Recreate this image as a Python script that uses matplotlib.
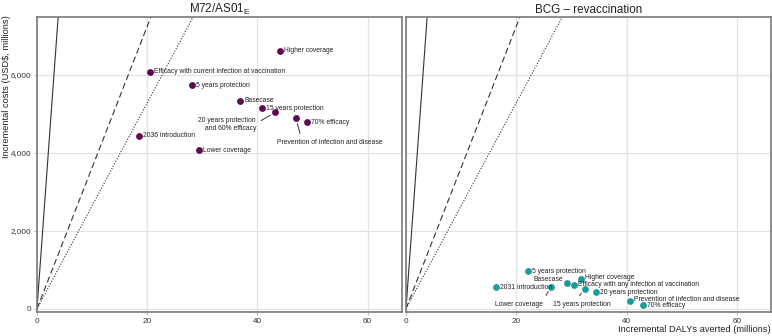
import matplotlib
matplotlib.use('Agg')
import matplotlib.pyplot as plt
import numpy as np

plt.rcParams['font.family'] = ['Liberation Sans', 'DejaVu Sans']
plt.rcParams['mathtext.fontset'] = 'custom'
plt.rcParams['mathtext.rm'] = 'Liberation Sans'

# M72/AS01E scenarios (DALYs averted in millions, costs in USD millions)
m72_labels = ['Higher coverage', 'Efficacy with current infection at vaccination',
              '5 years protection', 'Basecase', '15 years protection',
              '20 years protection\nand 60% efficacy', 'Prevention of infection and disease',
              '70% efficacy', '2036 introduction', 'Lower coverage']
m72_dalys = [44.1, 20.5, 28.1, 36.9, 40.9, 43.2, 47.0, 49.1, 18.5, 29.4]
m72_costs = [6615, 6077, 5736, 5333, 5146, 5036, 4882, 4779, 4436, 4069]

# BCG revaccination scenarios
bcg_labels = ['5 years protection', 'Higher coverage', 'Basecase',
              'Efficacy with any infection at vaccination', '2031 introduction',
              'Lower coverage', '15 years protection', '20 years protection',
              'Prevention of infection and disease', '70% efficacy']
bcg_dalys = [22.1, 31.8, 29.2, 30.4, 16.25, 26.3, 32.4, 34.4, 40.6, 42.9]
bcg_costs = [967, 770, 659, 607, 548, 556, 505, 428, 190, 87]

# cost-effectiveness threshold lines (USD per DALY)
thresholds = [1950, 362, 264]
threshold_styles = ['-', (0, (5.5, 3)), (0, (1, 1.5))]

# label offsets in pixels: (dx, dy, ha, leader line relpos or None)
m72_offsets = [(4, 0, 'left', None), (4, 0, 'left', None), (4, 0, 'left', None),
               (4, 0, 'left', None), (4, 0, 'left', None),
               (-19, -12, 'right', (1.0, 0.55)), (34, -24, 'center', (0.23, 1.0)),
               (4, 0, 'left', None), (4, 0, 'left', None), (4, 0, 'left', None)]
bcg_offsets = [(4, 0, 'left', None), (4, 1, 'left', None), (-4, 4, 'right', None),
               (4, 1, 'left', None), (4, 0, 'left', None),
               (-32, -17, 'center', (1.0, 1.0)), (-3, -15, 'center', (0.4, 1.0)),
               (4, 0, 'left', None), (4, 2, 'left', None), (4, 0, 'left', None)]

fig = plt.figure(figsize=(7.72, 3.36), dpi=100)
ax1 = fig.add_axes([37 / 772, 1 - 312.3 / 336, (401.7 - 37) / 772, (312.3 - 16.7) / 336])
ax2 = fig.add_axes([406 / 772, 1 - 312.3 / 336, (771 - 406) / 772, (312.3 - 16.7) / 336])


def draw_panel(ax, title, xs, ys, labels, offsets, color):
    ax.set_xlim(0, 66.2)
    ax.set_ylim(-92, 7490)
    xx = np.array([0, 66.2])
    for t, ls in zip(thresholds, threshold_styles):
        ax.plot(xx, xx * t, color='#333333', lw=0.8, ls=ls, zorder=2)
    ax.scatter(xs, ys, s=24, color=color, zorder=4, linewidths=0)
    for x, y, lab, (dx, dy, ha, rel) in zip(xs, ys, labels, offsets):
        if rel is None:
            ax.annotate(lab, (x, y), xytext=(dx, dy), textcoords='offset pixels',
                        ha=ha, va='center', fontsize=4.9, color='#222222', zorder=5)
        else:
            ax.annotate(lab, (x, y), xytext=(dx, dy), textcoords='offset pixels',
                        ha=ha, va='center', fontsize=4.9, color='#222222', zorder=5,
                        linespacing=1.15,
                        arrowprops=dict(arrowstyle='-', color='#333333', lw=0.7,
                                        relpos=rel, shrinkA=2, shrinkB=4))
    ax.set_xticks([0, 20, 40, 60])
    ax.set_yticks([0, 2000, 4000, 6000])
    ax.grid(True, color='#e3e3e3', lw=0.9)
    ax.set_axisbelow(True)
    for sp in ax.spines.values():
        sp.set_color('#7a7a7a')
        sp.set_linewidth(1.2)
    ax.tick_params(labelsize=5.9, colors='#333333', length=2.5, width=0.6,
                   pad=1.5)
    ax.tick_params(axis='both', color='#aaaaaa')
    ax.set_title(title, fontsize=8.4, pad=3, color='#222222')


draw_panel(ax1, 'M72/AS01$_{\\mathregular{E}}$', m72_dalys, m72_costs,
           m72_labels, m72_offsets, '#5c0a52')
draw_panel(ax2, 'BCG \u2013 revaccination', bcg_dalys, bcg_costs,
           bcg_labels, bcg_offsets, '#1a9c9c')

ax1.yaxis.set_major_formatter(matplotlib.ticker.FuncFormatter(lambda v, p: f'{v:,.0f}'))
ax2.tick_params(axis='y', left=False, labelleft=False)

fig.text(771 / 772, 1 - 330 / 336, 'Incremental DALYs averted (millions)',
         ha='right', va='center', fontsize=6.7, color='#222222')
fig.text(7 / 772, 1 - 86.5 / 336, 'Incremental costs (USD$, millions)',
         ha='center', va='center', rotation=90, fontsize=6.7, color='#222222')

fig.savefig('out.png', dpi=100)
